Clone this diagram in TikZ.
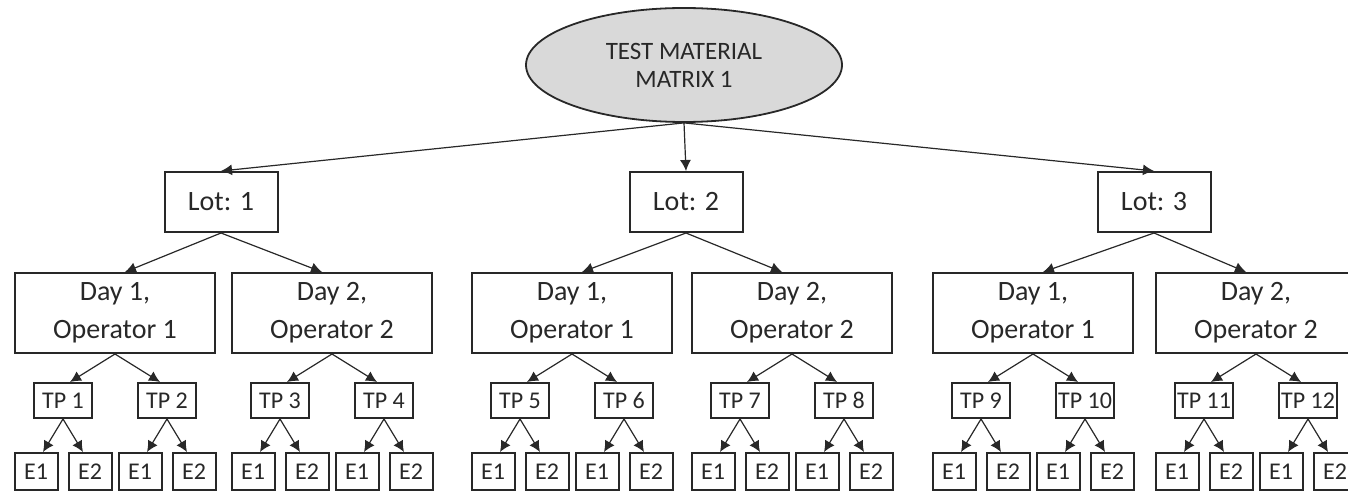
\documentclass[tikz,border=0pt]{standalone}
\usepackage{fontspec}
\setmainfont{Carlito}
\usepackage{tikz}
\usetikzlibrary{calc, arrows.meta, shapes.geometric, positioning}
\tikzset{>={Latex[length=5.5pt,width=5.5pt]}}
\definecolor{mygray2}{RGB}{217, 217, 217}
\definecolor{myink}{RGB}{40, 40, 40}
\tikzset{
  rootnode/.style = {ellipse, draw = myink, line width = 0.9pt, fill = mygray2, minimum width = 158pt, minimum height = 57pt, inner sep = 0pt, align = center, text = myink, font = \fontsize{12.5}{14}\selectfont},
  lotbox/.style = {draw = myink, line width = 1pt, minimum width = 56.5pt, minimum height = 30pt, text = myink, font = \fontsize{14}{17}\selectfont},
  daybox/.style = {draw = myink, line width = 1pt, minimum width = 100pt, minimum height = 40pt, inner sep = 0pt, align = center, text = myink, font = \fontsize{14}{19}\selectfont},
  tpbox/.style = {draw = myink, line width = 1pt, minimum width = 29pt, minimum height = 17.5pt, inner xsep = 1pt, inner ysep = 0pt, text = myink, font = \fontsize{12}{14}\selectfont},
  ebox/.style = {draw = myink, line width = 1pt, minimum width = 21.5pt, minimum height = 18.5pt, inner sep = 0pt, text = myink, font = \fontsize{12}{14}\selectfont},
  link/.style = {->, draw = myink, line width = 0.6pt}
}

\begin{document}
\begin{tikzpicture}[x = 0.5pt, y = -0.5pt]
\useasboundingbox (0,0) rectangle (1348,492);
\clip (0,0) rectangle (1348,492);
% matrix
\node[rootnode] (root) at (684, 65) {TEST MATERIAL\\MATRIX 1};
% lots
\foreach \l/\x in {1/221, 2/686, 3/1154}{
  \node[lotbox] (lot\l) at (\x, 202) {Lot: \l};
  \draw[link] (root.south) -- (lot\l.north);
}
% days and operators
\foreach \d/\x/\l/\j in {1/115/1/1, 2/332/1/2, 3/572/2/1, 4/792/2/2, 5/1033/3/1, 6/1256/3/2}{
  \pgfmathsetmacro{\dir}{3-2*\j}
  \node[daybox] (day\d) at (\x, 313) {Day \j,\\Operator \j};
  \draw[link] (lot\l.south) -- ([xshift = \dir*5pt]day\d.north);
  \foreach \k/\s in {1/-52, 2/52}{
    \pgfmathtruncatemacro{\t}{2*(\d-1)+\k}
    \pgfmathsetmacro{\tdir}{3-2*\k}
    \node[tpbox] (tp\t) at (\x+\s, 400.5) {TP \t};
    \draw[link] (day\d.south) -- ([xshift = \tdir*3.5pt]tp\t.north);
  }
}
% E1 and E2
\foreach \t in {1,...,12}{
  \foreach \k/\s in {1/-27, 2/27}{
    \pgfmathsetmacro{\edir}{3-2*\k}
    \node[ebox] (e\t-\k) at ($(tp\t)+(\s, 71)$) {E\k};
    \draw[link] (tp\t.south) -- ([xshift = \edir*3.5pt]e\t-\k.north);
  }
}
\end{tikzpicture}
\end{document}
